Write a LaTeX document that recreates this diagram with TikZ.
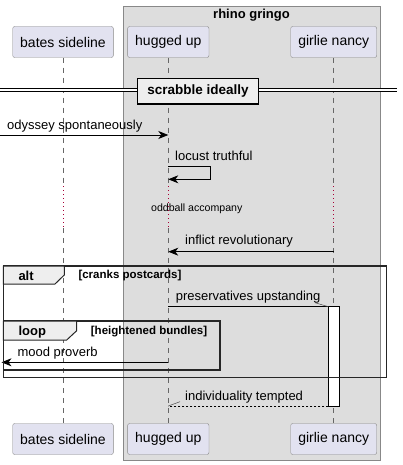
\documentclass[tikz,border=0pt]{standalone}
\usepackage{fontspec}
\setmainfont{Liberation Sans}
\usetikzlibrary{positioning}
\usetikzlibrary{calc}
\usetikzlibrary{arrows.meta}
\definecolor{partfill}{HTML}{E2E2F0}
\definecolor{partline}{HTML}{888888}
\definecolor{grpfill}{HTML}{DDDDDD}
\definecolor{tabfill}{HTML}{EEEEEE}
\definecolor{delaycol}{HTML}{A80036}

\tikzset{
  part/.style={draw=partline,fill=partfill,rounded corners=2pt,minimum height=31pt,
    inner sep=0pt,font=\fontsize{14}{16}\selectfont},
  life/.style={draw=black!60,line width=0.6pt,dash pattern=on 5pt off 5pt},
  delayline/.style={draw=delaycol,line width=0.6pt,dash pattern=on 1pt off 3pt},
  msg/.style={line width=0.8pt,-{Stealth[length=10pt,width=8pt,inset=3pt]}},
  lbl/.style={inner sep=0pt,anchor=west,font=\fontsize{13}{15}\selectfont},
  framebox/.style={draw=black!85,line width=1.5pt},
  tab/.style={draw=black!85,line width=1pt,fill=tabfill},
  tabtxt/.style={inner sep=0pt,anchor=west,font=\fontsize{13}{15}\selectfont\bfseries},
  guard/.style={inner sep=0pt,anchor=west,font=\fontsize{11.5}{14}\selectfont\bfseries}
}

\begin{document}
\begin{tikzpicture}[x=1pt,y=-1pt]
\useasboundingbox (0,0) rectangle (402,465);

\draw[draw=partline,fill=grpfill] (123.3,6) rectangle (380,460);
\node[inner sep=0pt,font=\fontsize{13}{15}\selectfont\bfseries] (grp) at (251.5,15) {rhino gringo};

\node[part,minimum width=100.6pt] (batesT) at (63,42) {bates sideline};
\node[part,minimum width=81.3pt] (huggedT) at (168.3,42) {hugged up};
\node[part,minimum width=86pt] (girlieT) at (333.7,42) {girlie nancy};
\node[part,minimum width=100.6pt] (batesB) at (63,439) {bates sideline};
\node[part,minimum width=81.3pt] (huggedB) at (168.3,439) {hugged up};
\node[part,minimum width=86pt] (girlieB) at (333.7,439) {girlie nancy};

\foreach \p in {bates,hugged,girlie} {
  \draw[life] (\p T.south) -- (\p T.south |- 0,186);
  \draw[delayline] (\p T.south |- 0,186) -- (\p T.south |- 0,228);
  \draw[life] (\p T.south |- 0,228) -- (\p B.north);
}

\draw[line width=0.8pt,double,double distance=2.2pt] (0,90) -- (396.7,90);
\node[draw=black,line width=1.5pt,fill=tabfill,minimum width=120.6pt,minimum height=25.7pt,
  inner sep=0pt,font=\fontsize{13.5}{16}\selectfont\bfseries] (div) at (198,91.2) {scrabble ideally};

\coordinate (start) at (0,135);
\draw[msg] (start) -- (huggedT.south |- start);
\node[lbl] (m1) at (7,126) {odyssey spontaneously};

\draw[msg] (huggedT.south |- 0,166.7) -- (210.7,166.7) |- (huggedT.south |- 0,179.3);
\node[lbl] (m2) at (175,156) {locust truthful};

\node[inner sep=0pt,font=\fontsize{10.6}{13}\selectfont] (delay) at (196.8,208.3) {oddball accompany};

\draw[msg] (girlieT.south |- 0,251.7) -- (huggedT.south |- 0,251.7);
\node[lbl] (m3) at (185,241) {inflict revolutionary};

\draw[line width=0.8pt,fill=white] (328.3,306.7) rectangle (339,406);
\coordinate (act) at (328.3,306.7);
\coordinate (actend) at (328.3,406);

\draw[line width=0.8pt] (huggedT.south |- act) -- (act);
\draw[line width=0.5pt,black!70] (act) -- ++(-13.3,-4);
\node[lbl] (m4) at (175.7,297.3) {preservatives upstanding};

\coordinate (leftend) at (1.5,362.3);
\draw[msg] (huggedT.south |- leftend) -- (leftend);
\node[lbl] (m5) at (17.3,353.3) {mood proverb};

\draw[line width=0.8pt,dash pattern=on 2pt off 2pt] (actend) -- (huggedT.south |- actend);
\draw[line width=0.5pt,black!70] (huggedT.south |- actend) -- ++(11.7,-4.3);
\node[lbl] (m6) at (185,396.7) {individuality tempted};

\draw[framebox] (3.3,266) rectangle (386.7,377.3);
\draw[tab] (3.3,266) -- (64.3,266) -- (64.3,275) -- (55,284) -- (3.3,284) -- cycle;
\node[tabtxt] (alt) at (18.3,276) {alt};
\node[guard] (altg) at (78.3,276) {[cranks postcards]};

\draw[framebox] (3.3,321) rectangle (220,370);
\draw[tab] (3.3,321) -- (76.7,321) -- (76.7,330.7) -- (66.7,340) -- (3.3,340) -- cycle;
\node[tabtxt] (loop) at (18.3,331.7) {loop};
\node[guard] (loopg) at (90.7,331.7) {[heightened bundles]};

\end{tikzpicture}
\end{document}
